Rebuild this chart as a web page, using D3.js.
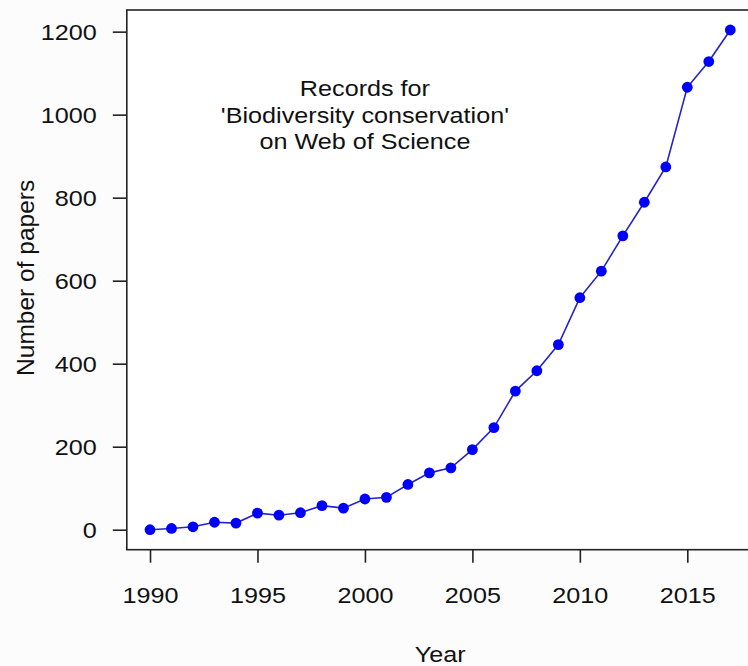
<!DOCTYPE html>
<html>
<head>
<meta charset="utf-8">
<script src="https://cdn.jsdelivr.net/npm/d3@7"></script>
<style>
  html, body { margin: 0; padding: 0; background: #fcfcfc; }
  svg { display: block; overflow: hidden; }
  text { font-family: "Liberation Sans", Arial, Helvetica, sans-serif; fill: #111; }
</style>
</head>
<body>
<svg id="chart" width="748" height="666"></svg>
<script>
// Yearly counts of records for "Biodiversity conservation" on Web of Science
const years = [1990, 1991, 1992, 1993, 1994, 1995, 1996, 1997, 1998, 1999,
               2000, 2001, 2002, 2003, 2004, 2005, 2006, 2007, 2008, 2009,
               2010, 2011, 2012, 2013, 2014, 2015, 2016, 2017];
const papers = [0, 3, 7, 18, 16, 40, 35, 41, 58, 52,
                74, 78, 109, 137, 149, 193, 246, 334, 383, 446,
                559, 623, 708, 789, 874, 1066, 1128, 1204];
const xTicks = [1990, 1995, 2000, 2005, 2010, 2015];
const yTicks = [0, 200, 400, 600, 800, 1000, 1200];
const noteLines = ["Records for", "'Biodiversity conservation'", "on Web of Science"];
const xTitle = "Year";
const yTitle = "Number of papers";

const W = 748, H = 666;
const plot = { left: 126.8, top: 10, width: 626.7, height: 539.7 };
const fontSize = 22.5;
const stretch = 1.12;   // glyphs are drawn slightly wider than tall

// Axis ranges padded by 4% on each side
function padded(ext) {
  const d = (ext[1] - ext[0]) * 0.04;
  return [ext[0] - d, ext[1] + d];
}
const x = d3.scaleLinear()
  .domain(padded(d3.extent(years)))
  .range([plot.left, plot.left + plot.width]);
const y = d3.scaleLinear()
  .domain(padded([0, d3.max(papers)]))
  .range([plot.top + plot.height, plot.top]);

const svg = d3.select("#chart");

// Plot region
svg.append("rect")
  .attr("x", plot.left).attr("y", plot.top)
  .attr("width", plot.width).attr("height", plot.height)
  .attr("fill", "#ffffff")
  .attr("stroke", "#222").attr("stroke-width", 1.6);

// Y axis
const yAxis = svg.append("g")
  .attr("transform", `translate(${plot.left},0)`)
  .call(d3.axisLeft(y).tickValues(yTicks).tickSize(14).tickFormat(d3.format("d")));
yAxis.select(".domain").remove();
yAxis.selectAll("line").attr("stroke", "#222").attr("stroke-width", 1.6);
yAxis.selectAll("text")
  .attr("x", 0).attr("dy", "0.36em")
  .attr("transform", `translate(-30,0) scale(${stretch},1)`)
  .style("font-size", fontSize + "px")
  .style("font-family", "'Liberation Sans', Arial, sans-serif")
  .attr("fill", "#111");

// X axis
const xAxis = svg.append("g")
  .attr("transform", `translate(0,${plot.top + plot.height})`)
  .call(d3.axisBottom(x).tickValues(xTicks).tickSize(13).tickFormat(d3.format("d")));
xAxis.select(".domain").remove();
xAxis.selectAll("line").attr("stroke", "#222").attr("stroke-width", 1.6);
xAxis.selectAll("text")
  .attr("y", 0).attr("dy", 0)
  .attr("transform", `translate(0,53.3) scale(${stretch},1)`)
  .style("font-size", fontSize + "px")
  .style("font-family", "'Liberation Sans', Arial, sans-serif")
  .attr("fill", "#111");

// Axis titles
svg.append("text")
  .attr("text-anchor", "middle")
  .attr("transform", `translate(${plot.left + plot.width / 2},661.7) scale(${stretch},1)`)
  .style("font-size", fontSize + "px")
  .text(xTitle);

svg.append("text")
  .attr("text-anchor", "middle")
  .attr("transform", `translate(34,${plot.top + plot.height / 2 - 2}) rotate(-90)`)
  .style("font-size", "24.5px")
  .text(yTitle);

// Note inside the plot, centred on (2000, 1000)
const noteX = x(2000), noteY = y(1000), lineGap = 26.5;
svg.append("g").selectAll("text")
  .data(noteLines)
  .join("text")
  .attr("text-anchor", "middle")
  .attr("transform", (d, i) =>
    `translate(${noteX},${noteY + (i - 1) * lineGap + 0.36 * fontSize}) scale(${stretch},1)`)
  .style("font-size", fontSize + "px")
  .text(d => d);

// Series line and points
const pts = years.map((yr, i) => [yr, papers[i]]);
svg.append("path")
  .datum(pts)
  .attr("fill", "none")
  .attr("stroke", "#2323c8")
  .attr("stroke-width", 1.6)
  .attr("d", d3.line().x(d => x(d[0])).y(d => y(d[1])));

svg.append("g").selectAll("circle")
  .data(pts)
  .join("circle")
  .attr("cx", d => x(d[0]))
  .attr("cy", d => y(d[1]))
  .attr("r", 5.4)
  .attr("fill", "#0000ff");
</script>
</body>
</html>
